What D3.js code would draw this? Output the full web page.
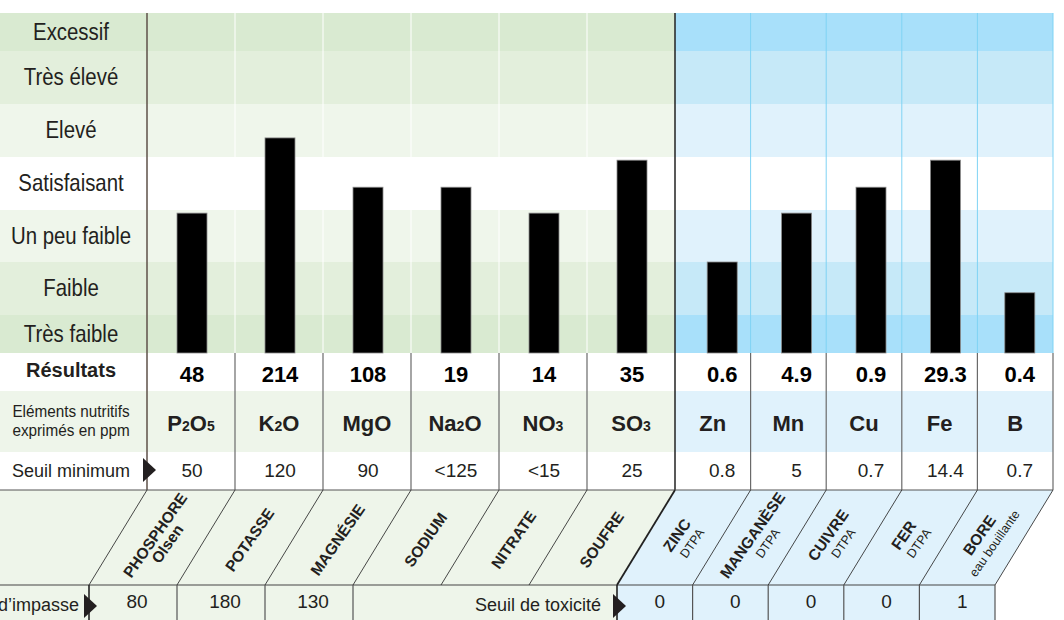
<!DOCTYPE html>
<html>
<head>
<meta charset="utf-8">
<script src="https://cdnjs.cloudflare.com/ajax/libs/d3/7.8.5/d3.min.js"></script>
<style>
  body { margin: 0; background: #fff; }
  svg { display: block; font-family: "Liberation Sans", Arial, sans-serif; }
</style>
</head>
<body>
<div id="chart"></div>
<script>
// Levels, bottom to top
var levels = ["Très faible", "Faible", "Un peu faible", "Satisfaisant", "Elevé", "Très élevé", "Excessif"];

// Elements (macro in green, micro in blue)
var macroElements = ["P2O5", "K2O", "MgO", "Na2O", "NO3", "SO3"];
var microElements = ["Zn", "Mn", "Cu", "Fe", "B"];
var elements = macroElements.concat(microElements);

// Bar height, in level units (0 = bottom of "Très faible")
var levelScores = [2.94, 4.36, 3.43, 3.43, 2.94, 3.94, 2.0, 2.94, 3.43, 3.94, 1.42];

var results = ["48", "214", "108", "19", "14", "35", "0.6", "4.9", "0.9", "29.3", "0.4"];
var seuilMinimum = ["50", "120", "90", "<125", "<15", "25", "0.8", "5", "0.7", "14.4", "0.7"];
var elementNames = ["PHOSPHORE", "POTASSE", "MAGNÉSIE", "SODIUM", "NITRATE", "SOUFRE",
                    "ZINC", "MANGANÈSE", "CUIVRE", "FER", "BORE"];
var methods = ["Olsen", "", "", "", "", "", "DTPA", "DTPA", "DTPA", "DTPA", "eau bouillante"];
var seuilImpasse = ["80", "180", "130"];
var seuilToxicite = ["0", "0", "0", "0", "1"];

// Layout
var svgWidth = 1064;
var svgHeight = 620;
var labelW = 147;      // left label column
var splitX = 675;      // macro / micro boundary
var rightX = 1053;
var labelCx = 71;
var bandBottom = 353;
var rowElem = [391, 452];
var diagTop = 490, diagBottom = 585, slant = 58;
var textColor = "#231f20";

var greenBand = ["#d9ead1", "#e3efdc", "#eff6eb", "#ffffff", "#eff6eb", "#e3efdc", "#d9ead1"];
var blueBand = ["#a8e0fa", "#c6e9f8", "#e0f2fc", "#ffffff", "#e0f2fc", "#c6e9f8", "#a8e0fa"];
var greenLight = "#eef5ea";
var blueLight = "#e0f2fc";

var svg = d3.select("#chart")
  .append("svg")
  .attr("width", svgWidth)
  .attr("height", svgHeight);

// Scales
var xMacro = d3.scaleBand().domain(macroElements).range([labelW, splitX]);
var xMicro = d3.scaleBand().domain(microElements).range([splitX, rightX]);
var xBarMicro = d3.scaleBand().domain(microElements).range([685, 1057]);
var yLevel = d3.scaleLinear()
  .domain(d3.range(8))
  .range([353, 315, 262, 210, 157, 104, 51, 13]);

function isMacro(d) { return macroElements.indexOf(d) >= 0; }
function colLeft(d) { return isMacro(d) ? xMacro(d) : xMicro(d); }
function colW(d) { return isMacro(d) ? xMacro.bandwidth() : xMicro.bandwidth(); }
function colCenter(d) { return colLeft(d) + colW(d) / 2; }
function barCenter(d) {
  return isMacro(d) ? xMacro(d) + xMacro.bandwidth() / 2 + 1 : xBarMicro(d) + xBarMicro.bandwidth() / 2;
}

// Level bands
levels.forEach(function(lv, i) {
  svg.append("rect")
    .attr("x", 0).attr("y", yLevel(i + 1))
    .attr("width", splitX).attr("height", yLevel(i) - yLevel(i + 1))
    .attr("fill", greenBand[i]);
  svg.append("rect")
    .attr("x", splitX).attr("y", yLevel(i + 1))
    .attr("width", rightX - splitX).attr("height", yLevel(i) - yLevel(i + 1))
    .attr("fill", blueBand[i]);
  svg.append("text")
    .attr("transform", "translate(" + labelCx + "," + ((yLevel(i) + yLevel(i + 1)) / 2 + 7.5) + ") scale(0.85,1)")
    .attr("text-anchor", "middle")
    .attr("font-size", 24)
    .attr("fill", textColor)
    .text(lv);
});

// Column separators in the band area
elements.forEach(function(d) {
  var x = colLeft(d) + colW(d);
  if (x === splitX) return;
  svg.append("line")
    .attr("x1", x).attr("x2", x)
    .attr("y1", yLevel(7)).attr("y2", bandBottom)
    .attr("stroke", isMacro(d) ? "#ffffff" : "#7fd3f4")
    .attr("stroke-width", 1);
});

// Element row background
svg.append("rect").attr("x", 0).attr("y", rowElem[0])
  .attr("width", splitX).attr("height", rowElem[1] - rowElem[0]).attr("fill", greenLight);
svg.append("rect").attr("x", splitX).attr("y", rowElem[0])
  .attr("width", rightX - splitX).attr("height", rowElem[1] - rowElem[0]).attr("fill", blueLight);

// Diagonal strip + bottom row backgrounds
svg.append("polygon")
  .attr("points", [[0, diagTop], [splitX, diagTop], [splitX - slant, diagBottom], [0, diagBottom]].join(" "))
  .attr("fill", greenLight);
svg.append("polygon")
  .attr("points", [[splitX, diagTop], [rightX, diagTop], [rightX - slant, diagBottom], [splitX - slant, diagBottom]].join(" "))
  .attr("fill", blueLight);
svg.append("rect").attr("x", 0).attr("y", diagBottom)
  .attr("width", splitX - slant).attr("height", svgHeight - diagBottom).attr("fill", greenLight);
svg.append("rect").attr("x", splitX - slant).attr("y", diagBottom)
  .attr("width", rightX - splitX).attr("height", svgHeight - diagBottom).attr("fill", blueLight);

// Bars
svg.append("g").selectAll("rect")
  .data(elements)
  .enter()
  .append("rect")
  .attr("x", d => barCenter(d) - 15)
  .attr("width", 30)
  .attr("y", (d, i) => yLevel(levelScores[i]))
  .attr("height", (d, i) => bandBottom - yLevel(levelScores[i]))
  .attr("fill", "#000")
  .attr("stroke", "#8a8a8a")
  .attr("stroke-width", 0.8);

// Table vertical lines (rows Résultats .. Seuil minimum)
var bounds = [labelW].concat(elements.map(d => colLeft(d) + colW(d)));
bounds.forEach(function(x) {
  var strong = (x === labelW || x === splitX);
  svg.append("line")
    .attr("x1", x).attr("x2", x)
    .attr("y1", strong ? yLevel(7) : bandBottom).attr("y2", diagTop)
    .attr("stroke", x === labelW ? "#5e5048" : (strong ? "#222" : "#6a6a6a"))
    .attr("stroke-width", strong ? 1.5 : 1.2);
});

// Horizontal lines
svg.append("line").attr("x1", 0).attr("x2", rightX).attr("y1", diagTop).attr("y2", diagTop)
  .attr("stroke", "#555").attr("stroke-width", 1);
svg.append("line").attr("x1", 0).attr("x2", rightX - slant).attr("y1", diagBottom).attr("y2", diagBottom)
  .attr("stroke", "#444").attr("stroke-width", 1.2);

// Diagonals
bounds.forEach(function(x) {
  svg.append("line")
    .attr("x1", x).attr("y1", diagTop)
    .attr("x2", x - slant).attr("y2", diagBottom)
    .attr("stroke", x === splitX ? "#222" : "#333")
    .attr("stroke-width", x === splitX ? 1.8 : 0.9);
});

// Bottom row vertical lines (Na2O..SO3 merged)
bounds.forEach(function(x, i) {
  if (i === 4 || i === 5) return;
  svg.append("line")
    .attr("x1", x - slant).attr("x2", x - slant)
    .attr("y1", diagBottom).attr("y2", svgHeight)
    .attr("stroke", (x === labelW || x === splitX) ? "#222" : "#555")
    .attr("stroke-width", (x === labelW || x === splitX) ? 1.6 : 1.2);
});

// Row labels
svg.append("text")
  .attr("x", labelCx).attr("y", 377)
  .attr("text-anchor", "middle").attr("font-size", 20).attr("font-weight", "bold")
  .attr("fill", textColor).text("Résultats");

["Eléments nutritifs", "exprimés en ppm"].forEach(function(t, i) {
  svg.append("text")
    .attr("transform", "translate(" + labelCx + "," + (417 + i * 19) + ") scale(0.9,1)")
    .attr("text-anchor", "middle").attr("font-size", 17)
    .attr("fill", textColor).text(t);
});

svg.append("text")
  .attr("x", labelCx).attr("y", 477)
  .attr("text-anchor", "middle").attr("font-size", 18)
  .attr("fill", textColor).text("Seuil minimum");

// Arrows
function arrow(x, yc) {
  svg.append("polygon")
    .attr("points", [[x, yc - 12], [x + 13, yc], [x, yc + 12]].join(" "))
    .attr("fill", "#231f20");
}
arrow(labelW - 4, 470);
arrow(labelW - slant - 5, 606);
arrow(splitX - slant - 4, 606);

// Results
svg.append("g").selectAll("text")
  .data(elements)
  .enter()
  .append("text")
  .attr("x", d => barCenter(d))
  .attr("y", 382)
  .attr("text-anchor", "middle")
  .attr("font-size", 22)
  .attr("font-weight", "bold")
  .attr("fill", "#000")
  .text((d, i) => results[i]);

// Formulas with subscripts
var formulas = svg.append("g").selectAll("text")
  .data(elements)
  .enter()
  .append("text")
  .attr("x", d => colCenter(d))
  .attr("y", 431)
  .attr("text-anchor", "middle")
  .attr("font-size", 22)
  .attr("font-weight", "bold")
  .attr("fill", textColor);

formulas.each(function(d) {
  var t = d3.select(this);
  d.match(/[0-9]+|[^0-9]+/g).forEach(function(part) {
    var sub = /[0-9]/.test(part);
    t.append("tspan")
      .attr("font-size", sub ? 14 : 22)
      .text(part);
  });
});

// Seuil minimum values
svg.append("g").selectAll("text")
  .data(elements)
  .enter()
  .append("text")
  .attr("x", d => barCenter(d))
  .attr("y", 477)
  .attr("text-anchor", "middle")
  .attr("font-size", 19)
  .attr("fill", textColor)
  .text((d, i) => seuilMinimum[i]);

// Rotated element names
var nameGroups = svg.append("g").selectAll("g")
  .data(elements)
  .enter()
  .append("g")
  .attr("transform", d => "translate(" + (colCenter(d) - slant / 2) + ",540) rotate(-55)");

nameGroups.each(function(d, i) {
  var g = d3.select(this);
  var m = methods[i];
  g.append("text")
    .attr("x", 0).attr("y", m ? -3 : 5)
    .attr("text-anchor", "middle")
    .attr("font-size", 15.5)
    .attr("font-weight", "bold")
    .attr("fill", textColor)
    .text(elementNames[i]);
  if (m) {
    var bold = isMacro(d);
    g.append("text")
      .attr("x", bold ? 0 : 2).attr("y", bold ? 12 : 13)
      .attr("text-anchor", "middle")
      .attr("font-size", bold ? 15.5 : 12.5)
      .attr("font-weight", bold ? "bold" : "normal")
      .attr("fill", textColor)
      .text(m);
  }
});

// Bottom row: seuil d'impasse / toxicité
svg.append("text")
  .attr("x", labelW - slant - 10).attr("y", 611)
  .attr("text-anchor", "end").attr("font-size", 18)
  .attr("fill", textColor).text("Seuil d’impasse");

svg.append("g").selectAll("text")
  .data(seuilImpasse)
  .enter()
  .append("text")
  .attr("x", (d, i) => colCenter(macroElements[i]) - slant + 4)
  .attr("y", 608)
  .attr("text-anchor", "middle")
  .attr("font-size", 19)
  .attr("fill", textColor)
  .text(d => d);

svg.append("text")
  .attr("x", splitX - slant - 16).attr("y", 611)
  .attr("text-anchor", "end").attr("font-size", 18)
  .attr("fill", textColor).text("Seuil de toxicité");

svg.append("g").selectAll("text")
  .data(seuilToxicite)
  .enter()
  .append("text")
  .attr("x", (d, i) => colCenter(microElements[i]) - slant + 5)
  .attr("y", 608)
  .attr("text-anchor", "middle")
  .attr("font-size", 19)
  .attr("fill", textColor)
  .text(d => d);
</script>
</body>
</html>
